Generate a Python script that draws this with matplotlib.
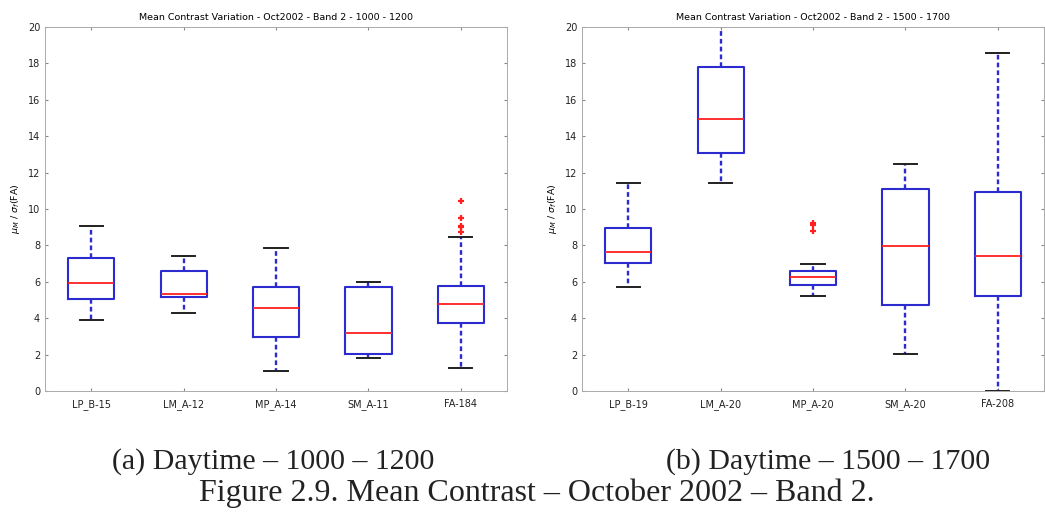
import matplotlib
matplotlib.use("Agg")
import matplotlib.pyplot as plt

# categories
labels_a = ["LP_B-15", "LM_A-12", "MP_A-14", "SM_A-11", "FA-184"]
labels_b = ["LP_B-19", "LM_A-20", "MP_A-20", "SM_A-20", "FA-208"]

# box statistics: lower whisker, q1, median, q3, upper whisker
whislo_a = [3.9, 4.3, 1.1, 1.8, 1.25]
q1_a = [5.05, 5.15, 2.95, 2.05, 3.75]
med_a = [5.95, 5.35, 4.55, 3.2, 4.8]
q3_a = [7.3, 6.6, 5.7, 5.7, 5.75]
whishi_a = [9.05, 7.4, 7.85, 6.0, 8.45]
fliers_a = [[], [], [], [], [8.75, 9.0, 9.05, 9.5, 10.45]]

whislo_b = [5.7, 11.45, 5.2, 2.05, 0.0]
q1_b = [7.05, 13.05, 5.85, 4.75, 5.2]
med_b = [7.65, 14.95, 6.25, 7.95, 7.4]
q3_b = [8.95, 17.8, 6.6, 11.1, 10.95]
whishi_b = [11.45, 21.0, 7.0, 12.45, 18.55]
fliers_b = [[], [], [8.8, 9.1, 9.25], [], []]

titles = ["Mean Contrast Variation - Oct2002 - Band 2 - 1000 - 1200",
          "Mean Contrast Variation - Oct2002 - Band 2 - 1500 - 1700"]
captions = ["(a) Daytime \u2013 1000 \u2013 1200", "(b) Daytime \u2013 1500 \u2013 1700"]
fig_caption = "Figure 2.9. Mean Contrast \u2013 October 2002 \u2013 Band 2."


def make_stats(lo, q1, med, q3, hi, fl, names):
    stats = []
    for i in range(len(names)):
        stats.append({"whislo": lo[i], "q1": q1[i], "med": med[i], "q3": q3[i],
                      "whishi": hi[i], "fliers": fl[i], "label": names[i]})
    return stats


def draw_panel(ax, stats, title):
    ax.bxp(stats, positions=range(1, 6), widths=0.5, showfliers=True,
           boxprops=dict(color="#2b2bd0", linewidth=1.5),
           medianprops=dict(color="#ff2020", linewidth=1.3),
           whiskerprops=dict(color="#2b2bd0", linewidth=1.7, linestyle=(0, (2, 1.3))),
           capprops=dict(color="#202020", linewidth=1.4),
           capwidths=0.25,
           flierprops=dict(marker="+", markeredgecolor="#ff2020", markersize=5,
                           markeredgewidth=1.6, linestyle="none"))
    ax.set_xlim(0.5, 5.5)
    ax.set_ylim(0, 20)
    ax.set_yticks(range(0, 21, 2))
    ax.tick_params(axis="both", direction="in", labelsize=7, length=2,
                   top=True, right=True, color="#888888", labelcolor="#222222")
    ax.tick_params(axis="x", pad=6)
    for s in ax.spines.values():
        s.set_color("#aaaaaa")
        s.set_linewidth(0.7)
    ax.set_title(title, fontsize=6.8, pad=5)
    ax.set_ylabel(r"$\mu_M$ / $\sigma_f$(FA)", fontsize=6.8, labelpad=4)


fig = plt.figure(figsize=(10.45, 5.19), dpi=100)
W, H = 1045.0, 519.0
ax1 = fig.add_axes([45 / W, 1 - 391 / H, 462 / W, 364 / H])
ax2 = fig.add_axes([582 / W, 1 - 391 / H, 462 / W, 364 / H])

draw_panel(ax1, make_stats(whislo_a, q1_a, med_a, q3_a, whishi_a, fliers_a, labels_a), titles[0])
draw_panel(ax2, make_stats(whislo_b, q1_b, med_b, q3_b, whishi_b, fliers_b, labels_b), titles[1])

serif = ["Liberation Serif", "DejaVu Serif"]
fig.text(273 / W, 1 - 462 / H, captions[0], ha="center", va="center", fontsize=21.5,
         family=serif, color="#222222")
fig.text(828 / W, 1 - 462 / H, captions[1], ha="center", va="center", fontsize=21.5,
         family=serif, color="#222222")
fig.text(537 / W, 1 - 493 / H, fig_caption, ha="center", va="center", fontsize=23,
         family=serif, color="#222222")

fig.savefig("out.png", dpi=100)
